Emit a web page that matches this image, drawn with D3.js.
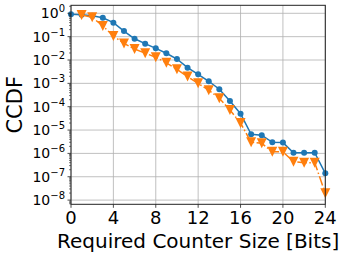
<!DOCTYPE html>
<html><head><meta charset="utf-8">
<script src="https://cdn.jsdelivr.net/npm/d3@7"></script>
<style>body{margin:0;background:#fff}svg{display:block}text{font-family:"DejaVu Sans",sans-serif;fill:#000}</style>
</head><body>
<svg id="c" width="343" height="256"></svg>
<script>
const bits = d3.range(0, 25);
const blueX = bits;
const blueY = [0.912,0.871,0.794,0.646,0.398,0.174,0.0813,0.0501,0.0316,0.0195,0.011,0.00468,0.00245,0.00123,5.6e-4,1.74e-4,5.0e-5,6.6e-6,6.0e-6,3.0e-6,2.9e-6,1.07e-6,1.07e-6,1.07e-6,1.4e-7];
const orangeX = d3.range(1, 25);
const orangeY = [0.851,0.676,0.288,0.107,0.0513,0.0295,0.0195,0.0132,0.00759,0.00398,0.00195,0.001,5.1e-4,2.3e-4,7.2e-5,2.0e-5,3.0e-6,2.7e-6,1.17e-6,1.17e-6,4.4e-7,4.0e-7,4.0e-7,1.95e-8];
const xTicks = [0,4,8,12,16,20,24];
const yExps = [0,-1,-2,-3,-4,-5,-6,-7,-8];

const L=71, R=325.3, T=5.3, B=204.3;
const svg = d3.select("#c");
const x = d3.scaleLinear().domain([0,24]).range([L,R]);
const y = d3.scaleLog().domain([Math.pow(10,-8.18), Math.pow(10,0.343)]).range([B,T]);

// grid
const g = svg.append("g");
g.selectAll(".gx").data(xTicks).join("line")
  .attr("x1",d=>x(d)).attr("x2",d=>x(d)).attr("y1",T).attr("y2",B)
  .attr("stroke","#b0b0b0").attr("stroke-width",0.8);
g.selectAll(".gy").data(yExps).join("line")
  .attr("x1",L).attr("x2",R).attr("y1",d=>y(Math.pow(10,d))).attr("y2",d=>y(Math.pow(10,d)))
  .attr("stroke","#b0b0b0").attr("stroke-width",0.8);

// blue series
const blue = bits.map((d,i)=>[blueX[i],blueY[i]]);
const orange = orangeX.map((d,i)=>[d,orangeY[i]]);
const line = d3.line().x(d=>x(d[0])).y(d=>y(d[1]));
svg.append("path").datum(blue).attr("d",line).attr("fill","none")
  .attr("stroke","#1f77b4").attr("stroke-width",1.5);
svg.selectAll(".bc").data(blue).join("circle")
  .attr("cx",d=>x(d[0])).attr("cy",d=>y(d[1])).attr("r",3).attr("fill","#1f77b4");

svg.append("path").datum(orange).attr("d",line).attr("fill","none")
  .attr("stroke","#ff7f0e").attr("stroke-width",1.5).attr("stroke-dasharray","9.6,2.4,1.5,2.4");
svg.selectAll(".ot").data(orange).join("path")
  .attr("d",d=>{const cx=x(d[0]), cy=y(d[1]); return `M${cx-5},${cy-5}L${cx+5},${cy-5}L${cx},${cy+5}Z`;})
  .attr("fill","#ff7f0e");

// frame
svg.append("rect").attr("x",L).attr("y",T).attr("width",R-L).attr("height",B-T)
  .attr("fill","none").attr("stroke","#222").attr("stroke-width",1);

// x axis ticks
const xa = svg.append("g");
xa.selectAll("line").data(xTicks).join("line")
  .attr("x1",d=>x(d)).attr("x2",d=>x(d)).attr("y1",B).attr("y2",B+3.5)
  .attr("stroke","#222").attr("stroke-width",0.8);
xa.selectAll("text").data(xTicks).join("text")
  .attr("x",d=>x(d)).attr("y",B+20).attr("text-anchor","middle")
  .attr("font-size",18).text(d=>d);

// y axis ticks (major + minor)
const ya = svg.append("g");
const minor = [];
for (let e=-9;e<=0;e++) for (let m=2;m<=9;m++){const v=m*Math.pow(10,e); if (v>=y.domain()[0] && v<=y.domain()[1]) minor.push(v);}
ya.selectAll(".mn").data(minor).join("line")
  .attr("x1",L).attr("x2",L-2).attr("y1",d=>y(d)).attr("y2",d=>y(d))
  .attr("stroke","#222").attr("stroke-width",0.6);
ya.selectAll(".mj").data(yExps).join("line")
  .attr("x1",L).attr("x2",L-3.5).attr("y1",d=>y(Math.pow(10,d))).attr("y2",d=>y(Math.pow(10,d)))
  .attr("stroke","#222").attr("stroke-width",0.8);
const yl = ya.selectAll(".yl").data(yExps).join("text")
  .attr("x",L-6).attr("y",d=>y(Math.pow(10,d))+5).attr("text-anchor","end").attr("font-size",14);
yl.append("tspan").text("10");
yl.append("tspan").attr("dy",-6).attr("font-size",10).text(d=>d===0?"0":"\u2212"+(-d));

// axis labels
svg.append("text").attr("x",(L+R)/2).attr("y",248).attr("text-anchor","middle")
  .attr("font-size",20).text("Required Counter Size [Bits]");
svg.append("text").attr("transform",`translate(${22},${(T+B)/2}) rotate(-90)`)
  .attr("text-anchor","middle").attr("font-size",21).text("CCDF");
</script>
</body></html>
